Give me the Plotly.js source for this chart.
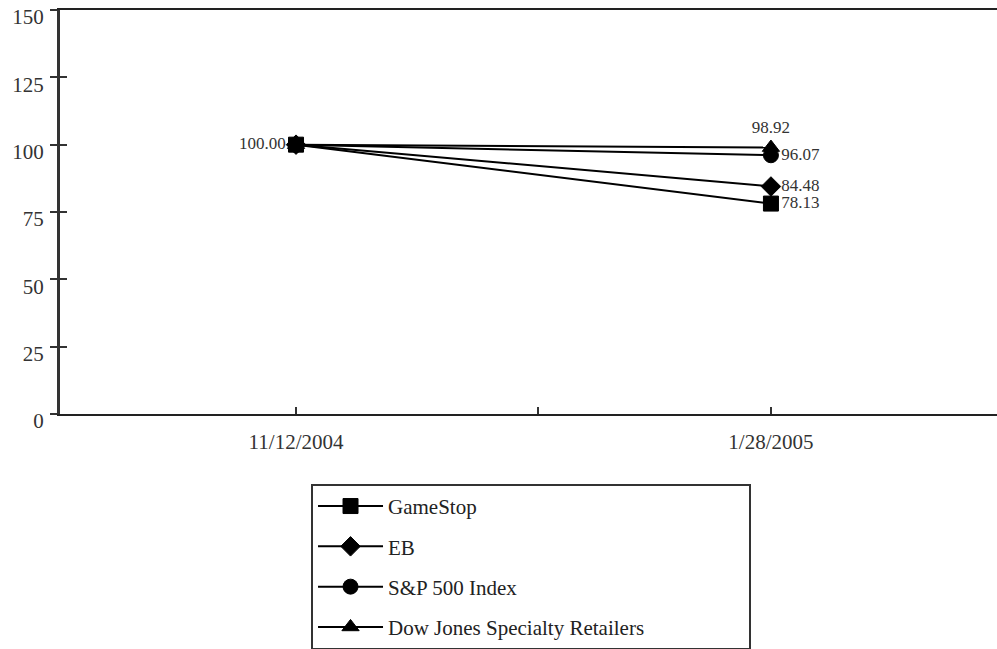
<!DOCTYPE html>
<html>
<head>
<meta charset="utf-8">
<script src="https://cdn.plot.ly/plotly-3.0.1.min.js"></script>
<style>html,body{margin:0;padding:0;background:#fff;}#chart{width:997px;height:649px;}</style>
</head>
<body>
<div id="chart"></div>
<script>
const dates = ['11/12/2004', '1/28/2005'];
const seriesNames = ['GameStop', 'EB', 'S&P 500 Index', 'Dow Jones Specialty Retailers'];
const gameStop = [100.00, 78.13];
const eb = [100.00, 84.48];
const sp500 = [100.00, 96.07];
const dowJones = [100.00, 98.92];
const yTicks = [0, 25, 50, 75, 100, 125, 150];

const xIdx = dates.map((d, i) => i);
const fontFam = '"Liberation Serif", "Times New Roman", serif';
const symbols = ['square', 'diamond', 'circle', 'triangle-up'];
const allVals = [gameStop, eb, sp500, dowJones];
const labelPos = [
  ['middle left', 'middle right'],
  ['middle left', 'middle right'],
  ['middle left', 'middle right'],
  ['middle left', 'top center']
];
const pad = '\u00a0'.repeat(19);

const traces = allVals.map((vals, k) => ({
  x: xIdx,
  y: vals,
  name: seriesNames[k] + (k === 3 ? pad : ''),
  legendgroup: 'g' + k,
  type: 'scatter',
  mode: 'lines+markers+text',
  line: {color: '#000', width: 2},
  marker: {symbol: symbols[k], size: 15, color: '#000', line: {color: '#000', width: 1}},
  text: vals.map((v, i) => (i === 0 && k !== 0) ? '' : v.toFixed(2)),
  textposition: labelPos[k],
  textfont: {family: fontFam, size: 17, color: '#333'},
  cliponaxis: false,
  hoverinfo: 'skip'
}));
// inner half of the crossing y ticks
traces.push({x: [0], y: [100], xaxis: 'x', yaxis: 'y2', mode: 'markers', marker: {opacity: 0}, showlegend: false, hoverinfo: 'skip'});

const layout = {
  width: 997,
  height: 649,
  margin: {l: 60, r: 0, t: 10, b: 235, autoexpand: false},
  paper_bgcolor: '#fff',
  plot_bgcolor: '#fff',
  showlegend: true,
  font: {family: fontFam, color: '#333'},
  xaxis: {
    range: [-0.497, 1.476],
    tickmode: 'array',
    tickvals: [0, 0.51, 1],
    ticktext: [dates[0], '', dates[1]],
    ticks: 'inside',
    ticklen: 7,
    tickwidth: 2,
    tickcolor: '#333',
    showline: true,
    linecolor: '#222',
    linewidth: 2,
    mirror: true,
    showgrid: false,
    zeroline: false,
    ticklabelstandoff: 8,
    tickfont: {family: fontFam, size: 21, color: '#333'}
  },
  yaxis: {
    range: [0, 150],
    tickmode: 'array',
    tickvals: yTicks,
    ticks: 'outside',
    ticklen: 7,
    tickwidth: 2,
    tickcolor: '#333',
    showline: true,
    linecolor: '#333',
    linewidth: 3,
    showgrid: false,
    zeroline: false,
    ticklabelstandoff: 2,
    ticklabelshift: 7,
    ticklabeloverflow: 'allow',
    tickfont: {family: fontFam, size: 21, color: '#333'}
  },
  yaxis2: {
    range: [0, 150],
    overlaying: 'y',
    side: 'left',
    tickmode: 'array',
    tickvals: yTicks,
    ticks: 'inside',
    ticklen: 7,
    tickwidth: 2,
    tickcolor: '#333',
    showticklabels: false,
    showline: false,
    showgrid: false,
    zeroline: false
  },
  legend: {
    x: 0.2679,
    y: -0.173,
    xanchor: 'left',
    yanchor: 'top',
    bordercolor: '#333',
    borderwidth: 2,
    bgcolor: '#fff',
    itemwidth: 65,
    tracegroupgap: 10,
    font: {family: fontFam, size: 21, color: '#222'},
    itemclick: false,
    itemdoubleclick: false
  }
};

Plotly.newPlot('chart', traces, layout, {staticPlot: true, displayModeBar: false});
</script>
</body>
</html>
